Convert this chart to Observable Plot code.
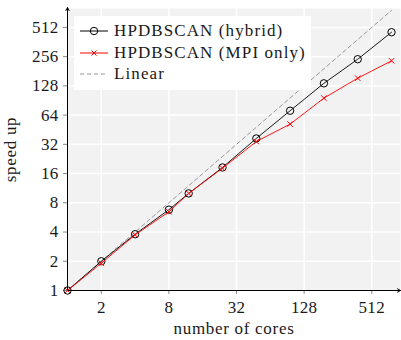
<!DOCTYPE html>
<html>
<head>
<meta charset="utf-8">
<script src="https://cdn.jsdelivr.net/npm/d3@7"></script>
<script src="https://cdn.jsdelivr.net/npm/@observablehq/plot@0.6"></script>
<style>
  body { margin: 0; background: white; }
  #wrap { position: relative; width: 401px; height: 340px; font-family: "Liberation Serif", "Times New Roman", serif; }
  #wrap svg text { font-family: "Liberation Serif", "Times New Roman", serif; }
  #wrap svg g[aria-label="x-axis label"] text, #wrap svg g[aria-label="y-axis label"] text { letter-spacing: 0.7px; }
  #wrap svg g[aria-label="x-axis tick label"] text, #wrap svg g[aria-label="y-axis tick label"] text { letter-spacing: 0.3px; }
  #legend { position: absolute; left: 74px; top: 16px; width: 237px; height: 74px; background: white; font-size: 17px; letter-spacing: 1.1px; color: #1a1a1a; }
  .row { position: absolute; left: 6px; height: 20px; display: flex; align-items: center; white-space: nowrap; }
  .row svg { margin-right: 5px; }
</style>
</head>
<body>
<div id="wrap"></div>
<script>
const cores = [1, 2, 4, 8, 12, 24, 48, 96, 192, 384, 768];
const hybrid = [1, 2, 3.8, 6.8, 10, 18.5, 36.8, 71, 136, 241, 457];
const mpiOnly = [1, 1.91, 3.74, 6.46, 10, 18.2, 34.2, 51.7, 95.7, 153.6, 232];
const linear = [1, 768];
const xTicks = [2, 8, 32, 128, 512];
const yTicks = [1, 2, 4, 8, 16, 32, 64, 128, 256, 512];
const xMax = 923, yMax = 802;

const hyb = cores.map((c, i) => ({x: c, y: hybrid[i]}));
const mpi = cores.map((c, i) => ({x: c, y: mpiOnly[i]}));
const lin = linear.map(v => ({x: v, y: v}));

const chart = Plot.plot({
  width: 401, height: 340,
  marginLeft: 67, marginRight: 1, marginTop: 8, marginBottom: 50,
  style: {fontSize: "17px", background: "white", color: "#1a1a1a"},
  x: {type: "log", base: 2, domain: [1, xMax]},
  y: {type: "log", base: 2, domain: [1, yMax]},
  marks: [
    Plot.frame({fill: "#f2f2f2", stroke: null}),
    Plot.gridX(xTicks, {stroke: "white", strokeOpacity: 1, strokeWidth: 1.5}),
    Plot.gridY(yTicks.slice(1), {stroke: "white", strokeOpacity: 1, strokeWidth: 1.5}),
    Plot.axisX(xTicks, {tickSize: 4, tickPadding: 6, stroke: "#888", fill: "#1a1a1a", fontSize: 17, tickFormat: d => String(d), label: "number of cores", labelAnchor: "center", labelArrow: "none", labelOffset: 43}),
    Plot.axisY(yTicks, {tickSize: 4, tickPadding: 5, stroke: "#888", fill: "#1a1a1a", fontSize: 17, tickFormat: d => String(d), label: "speed up", labelAnchor: "center", labelArrow: "none", labelOffset: 64}),
    Plot.arrow([{x1: 1, y1: 1, x2: xMax, y2: 1}], {x1: "x1", y1: "y1", x2: "x2", y2: "y2", stroke: "black", strokeWidth: 1, headLength: 5}),
    Plot.arrow([{x1: 1, y1: 1, x2: 1, y2: yMax * 1.02}], {x1: "x1", y1: "y1", x2: "x2", y2: "y2", stroke: "black", strokeWidth: 1, headLength: 5}),
    Plot.line(lin, {x: "x", y: "y", stroke: "#999", strokeWidth: 1, strokeDasharray: "4,3"}),
    Plot.line(hyb, {x: "x", y: "y", stroke: "black", strokeWidth: 0.9}),
    Plot.dot(hyb, {x: "x", y: "y", r: 3.7, stroke: "black", strokeWidth: 1, fill: "none"}),
    Plot.line(mpi, {x: "x", y: "y", stroke: "red", strokeWidth: 0.9}),
    Plot.dot(mpi, {x: "x", y: "y", symbol: "times", r: 2.6, stroke: "red", strokeWidth: 1})
  ]
});
const wrap = document.getElementById("wrap");
wrap.appendChild(chart);

const legendItems = [
  {label: "HPDBSCAN (hybrid)", stroke: "black", dash: null, marker: "circle"},
  {label: "HPDBSCAN (MPI only)", stroke: "red", dash: null, marker: "times"},
  {label: "Linear", stroke: "#999", dash: "4,3", marker: null}
];
const leg = document.createElement("div");
leg.id = "legend";
legendItems.forEach((it, i) => {
  const row = document.createElement("div");
  row.className = "row";
  row.style.top = (5 + i * 21.5) + "px";
  let m = "";
  if (it.marker === "circle") m = `<circle cx="14" cy="10" r="3.7" fill="none" stroke="${it.stroke}"/>`;
  if (it.marker === "times") m = `<path d="M11.5 7.5L16.5 12.5M16.5 7.5L11.5 12.5" stroke="${it.stroke}"/>`;
  row.innerHTML = `<svg width="29" height="20"><line x1="0" y1="10" x2="28" y2="10" stroke="${it.stroke}" ${it.dash ? `stroke-dasharray="${it.dash}"` : ""}/>${m}</svg><span>${it.label}</span>`;
  leg.appendChild(row);
});
wrap.appendChild(leg);
</script>
</body>
</html>
